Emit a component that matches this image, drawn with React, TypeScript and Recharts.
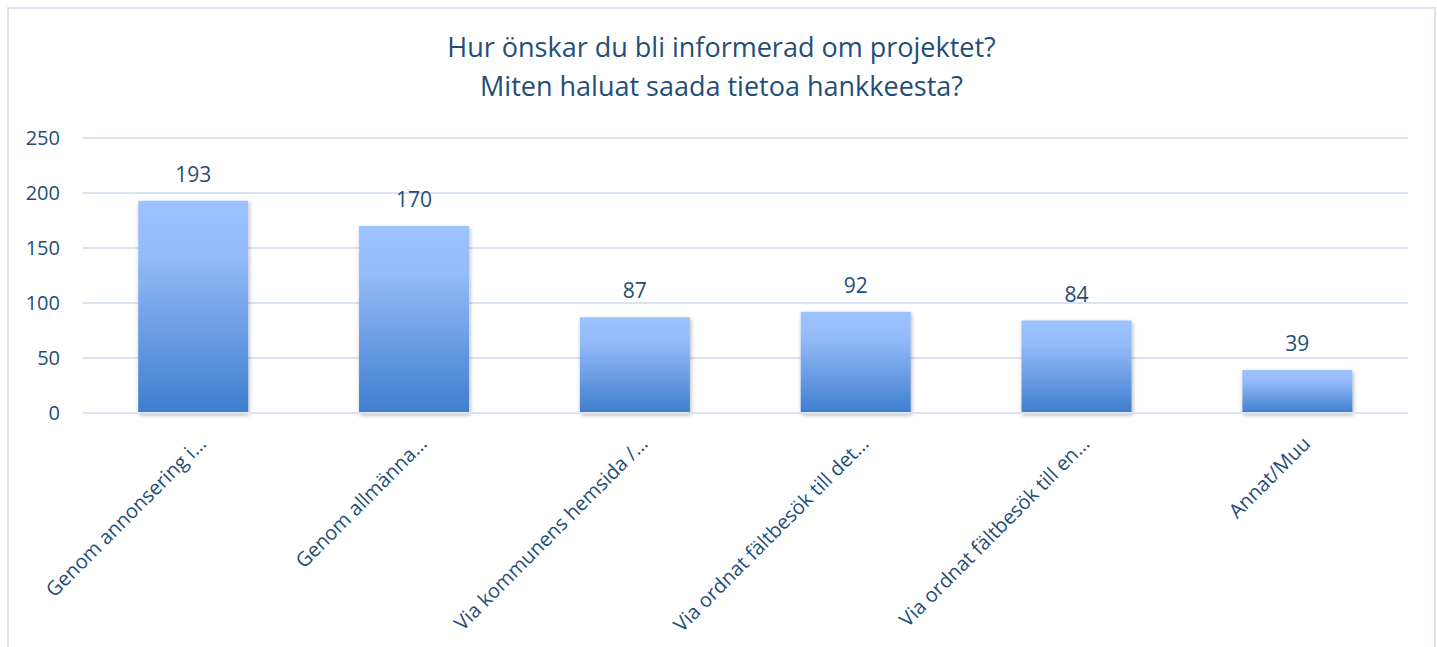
import React from 'react';
import { BarChart, Bar, XAxis, YAxis, CartesianGrid, LabelList } from 'recharts';

const categories = [
  'Genom annonsering i…',
  'Genom allmänna…',
  'Via kommunens hemsida /…',
  'Via ordnat fältbesök till det…',
  'Via ordnat fältbesök till en…',
  'Annat/Muu',
];
const values = [193, 170, 87, 92, 84, 39];
const yTicks = [0, 50, 100, 150, 200, 250];
const titleLines = ['Hur önskar du bli informerad om projektet?', 'Miten haluat saada tietoa hankkeesta?'];

const data = categories.map((c, i) => ({ name: c, value: values[i] }));

const TEXT = '#1F4E79';
const FONT = '"Open Sans", sans-serif';

const CatTick = (props: any) => {
  const { x, y, payload } = props;
  const ax = x + 14;
  const ay = y + 24;
  return (
    <text
      x={ax}
      y={ay}
      textAnchor="end"
      fill={TEXT}
      fontSize={20}
      fontFamily={FONT}
      transform={`rotate(-45, ${ax}, ${ay})`}
    >
      {payload.value}
    </text>
  );
};

export default function App() {
  return (
    <div style={{ position: 'absolute', left: 0, top: 0, width: 1437, height: 647, overflow: 'hidden', background: '#fff' }}>
      <div
        style={{
          position: 'absolute',
          left: 7,
          top: 7,
          width: 1429,
          height: 700,
          border: '2px solid #D9E3F2',
          boxSizing: 'border-box',
        }}
      />
      <div
        style={{
          position: 'absolute',
          left: 0,
          top: 27,
          width: 1443,
          textAlign: 'center',
          fontFamily: FONT,
          fontSize: 27,
          lineHeight: '39px',
          color: TEXT,
        }}
      >
        {titleLines.map((l) => (
          <div key={l}>{l}</div>
        ))}
      </div>
      <div style={{ position: 'absolute', left: 0, top: 0 }}>
        <BarChart
          width={1437}
          height={647}
          data={data}
          margin={{ top: 138, right: 29, left: 0, bottom: 0 }}
          barCategoryGap="25%"
        >
          <defs>
            <linearGradient id="barGrad" x1="0" y1="0" x2="0" y2="1">
              <stop offset="0%" stopColor="#9CC2FF" />
              <stop offset="25%" stopColor="#95BBFA" />
              <stop offset="100%" stopColor="#3E7ECD" />
            </linearGradient>
            <filter id="shadow" x="-10%" y="-10%" width="125%" height="125%">
              <feDropShadow dx="1" dy="2" stdDeviation="2" floodColor="#000" floodOpacity="0.3" />
            </filter>
          </defs>
          <CartesianGrid vertical={false} stroke="#D9E3F2" strokeWidth={2} />
          <XAxis
            dataKey="name"
            axisLine={{ stroke: '#D9E3F2', strokeWidth: 2 }}
            tickLine={false}
            interval={0}
            height={234}
            tick={<CatTick />}
          />
          <YAxis
            domain={[0, 250]}
            ticks={yTicks}
            width={83}
            axisLine={false}
            tickLine={false}
            tickSize={0}
            tickMargin={23}
            tick={{ fill: TEXT, fontSize: 20, fontFamily: FONT }}
          />
          <Bar dataKey="value" fill="url(#barGrad)" isAnimationActive={false} filter="url(#shadow)">
            <LabelList dataKey="value" position="top" offset={19} fill={TEXT} fontSize={21} fontFamily={FONT} />
          </Bar>
        </BarChart>
      </div>
    </div>
  );
}
